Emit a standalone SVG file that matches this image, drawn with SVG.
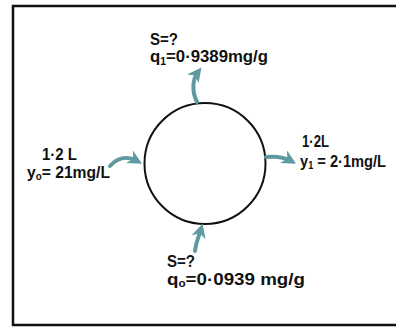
<svg xmlns="http://www.w3.org/2000/svg" width="396" height="327" viewBox="0 0 396 327">
<style>
.lbl{font-family:"Liberation Sans",Arial,sans-serif;font-size:16px;font-weight:bold;fill:#111}
.sub{font-size:10px}
.arr{fill:none;stroke:#5e9a9f;stroke-width:4;stroke-linecap:round}
</style>
<defs>
<marker id="ah" viewBox="0 0 10 10" refX="6" refY="5" markerWidth="3.6" markerHeight="3.6" orient="auto" markerUnits="strokeWidth">
<path d="M0,0 L10,5 L0,10 L3,5 Z" fill="#5e9a9f"/>
</marker>
</defs>
<rect width="396" height="327" fill="#fff"/>
<path d="M400,6 H13 V325 H400" fill="none" stroke="#111" stroke-width="2.5"/>
<g id="vessel"><circle cx="205" cy="163.5" r="60.5" fill="#fff" stroke="#111" stroke-width="2"/></g>
<g id="connectors">
<path class="arr" d="M197,102 C192,92 192,80 198,72" marker-end="url(#ah)"/>
<path class="arr" d="M110,166 C118,157 128,156 137,161" marker-end="url(#ah)"/>
<path class="arr" d="M266,157 C276,156 284,157 291,161" marker-end="url(#ah)"/>
<path class="arr" d="M195,251 C196,242 199,236 201,229" marker-end="url(#ah)"/>
</g>
<g id="top-label">
<text class="lbl" x="150" y="45" textLength="28" lengthAdjust="spacingAndGlyphs">S=?</text>
<text class="lbl" x="150" y="62" textLength="118" lengthAdjust="spacingAndGlyphs">q<tspan class="sub" dy="3">1</tspan><tspan dy="-3">=0·9389mg/g</tspan></text>
</g>
<g id="left-label">
<text class="lbl" x="42" y="160" textLength="35" lengthAdjust="spacingAndGlyphs">1·2 L</text>
<text class="lbl" x="27" y="178" textLength="83" lengthAdjust="spacingAndGlyphs">y<tspan class="sub" dy="2">o</tspan><tspan dy="-2">= 21mg/L</tspan></text>
</g>
<g id="right-label">
<text class="lbl" x="302" y="147" textLength="27" lengthAdjust="spacingAndGlyphs">1·2L</text>
<text class="lbl" x="300" y="167" textLength="86" lengthAdjust="spacingAndGlyphs">y<tspan class="sub" dy="2">1</tspan><tspan dy="-2"> = 2·1mg/L</tspan></text>
</g>
<g id="bottom-label">
<text class="lbl" x="167" y="267" textLength="28" lengthAdjust="spacingAndGlyphs">S=?</text>
<text class="lbl" x="167" y="285" textLength="138" lengthAdjust="spacingAndGlyphs">q<tspan class="sub" dy="2">o</tspan><tspan dy="-2">=0·0939 mg/g</tspan></text>
</g>
</svg>
